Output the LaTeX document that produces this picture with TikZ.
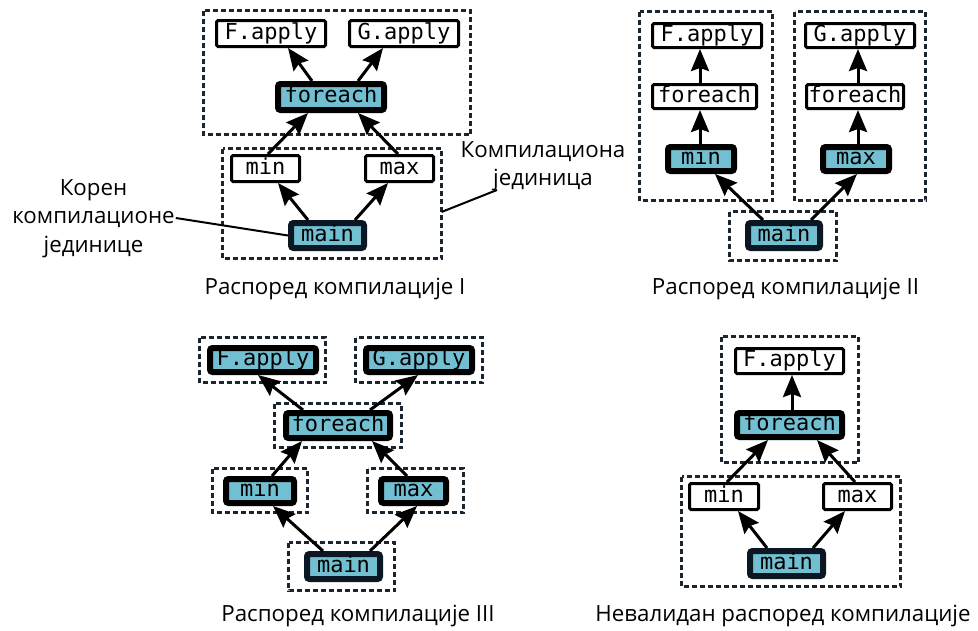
\documentclass[tikz,border=0pt]{standalone}
\usepackage{fontspec}
\setmainfont{Open Sans}
\newfontfamily\codefont{DejaVu Sans Mono}
\usetikzlibrary{arrows.meta}
\definecolor{hotfill}{HTML}{72BFD2}
\definecolor{rootline}{HTML}{0B1823}
\definecolor{grpline}{HTML}{1A2530}
\begin{document}
\begin{tikzpicture}[x=1pt,y=-1pt,
  fn/.style={font=\codefont\fontsize{22}{24}\selectfont, inner sep=0pt,
             text height=15.5pt, text depth=4.5pt, anchor=center},
  plain/.style={fn, draw=black, line width=3pt, fill=white, rounded corners=1.5pt},
  hot/.style={fn, draw=black, line width=6pt, fill=hotfill, rounded corners=2.5pt},
  root/.style={hot, draw=rootline},
  sz/.style 2 args={minimum width=#1pt, minimum height=#2pt},
  grp/.style={draw=grpline, line width=2.5pt, dash pattern=on 5pt off 3pt},
  arr/.style={line width=3pt, -{Stealth[length=22pt,width=18pt,inset=3pt]}},
  lead/.style={line width=2pt},
  lbl/.style={font=\fontsize{22.3}{26}\selectfont, inner sep=1pt, anchor=base},
]
\useasboundingbox (0,0) rectangle (978,630);

% ---------- schedule I ----------
\draw[grp] (203.5,10.5) rectangle (470.5,134.5);
\draw[grp] (222.5,148.5) rectangle (441.5,258.5);
\node[plain, sz={109}{26}] (fa1) at (271,33.5) {F.apply};
\node[plain, sz={109}{26}] (ga1) at (404,33.5) {G.apply};
\node[hot,   sz={106}{26}] (fe1) at (331,97) {foreach};
\node[plain, sz={68}{26}]  (mi1) at (265.5,168.5) {min};
\node[plain, sz={68}{26}]  (ma1) at (399.5,168.5) {max};
\node[root,  sz={73}{25}]  (mn1) at (327.5,235.5) {main};
\draw[arr] ([xshift=-19]fe1.north) -- ([xshift=17]fa1.south);
\draw[arr] ([xshift=27]fe1.north) -- ([xshift=-21]ga1.south);
\draw[arr] ([xshift=2.5]mi1.north) -- ([xshift=-23]fe1.south);
\draw[arr] ([xshift=-1.5]ma1.north) -- ([xshift=27]fe1.south);
\draw[arr] ([xshift=-19.5]mn1.north) -- ([xshift=12.5]mi1.south);
\draw[arr] ([xshift=27.5]mn1.north) -- ([xshift=-11.5]ma1.south);

\node[lbl] (rl1) at (93.5,195) {Корен};
\node[lbl] (rl2) at (93.5,223) {компилационе};
\node[lbl] (rl3) at (93.5,252) {јединице};
\draw[lead] ([yshift=5]rl2.base east) -- (mn1.west);

\node[lbl] (cu1) at (543,157) {Компилациона};
\node[lbl] (cu2) at (543,185) {јединица};
\coordinate (cuEdge) at (441.5,212);
\draw[lead] (cuEdge) -- ([xshift=5,yshift=-5]cu2.base west);

\node[lbl] (cap1) at (335,294) {Распоред компилације I};

% ---------- schedule II ----------
\draw[grp] (639.5,11.5) rectangle (772.5,200.5);
\draw[grp] (794.5,11.5) rectangle (925.5,200.5);
\draw[grp] (729.5,211.5) rectangle (836.5,260.5);
\node[plain, sz={109}{24}] (fa2)  at (707,35.5) {F.apply};
\node[plain, sz={104}{24}] (fe2)  at (704.5,96.5) {foreach};
\node[hot,   sz={66}{24}]  (mi2)  at (701,159) {min};
\node[plain, sz={109}{24}] (ga2)  at (860,35.5) {G.apply};
\node[plain, sz={97}{24}]  (fe2b) at (855,96.5) {foreach};
\node[hot,   sz={66}{24}]  (ma2)  at (856,159) {max};
\node[root,  sz={72}{25}]  (mn2)  at (784,235.5) {main};
\draw[arr] ([xshift=-4.5]fe2.north) -- ([xshift=-7]fa2.south);
\draw[arr] ([xshift=-1]mi2.north) -- ([xshift=-4.5]fe2.south);
\draw[arr] ([xshift=3]fe2b.north) -- ([xshift=-2]ga2.south);
\draw[arr] ([xshift=2]ma2.north) -- ([xshift=3]fe2b.south);
\draw[arr] ([xshift=-21]mn2.north) -- ([xshift=14]mi2.south);
\draw[arr] ([xshift=27]mn2.north) -- ([xshift=1]ma2.south);

\node[lbl] (cap2) at (785.5,294) {Распоред компилације II};

% ---------- schedule III ----------
\draw[grp] (199.5,337.5) rectangle (325.5,382.5);
\draw[grp] (355.5,337.5) rectangle (482.5,382.5);
\draw[grp] (274.5,403.5) rectangle (401.5,447.5);
\draw[grp] (212.5,468.5) rectangle (307.5,512.5);
\draw[grp] (367.5,468.5) rectangle (463.5,512.5);
\draw[grp] (288.5,542.5) rectangle (394.5,590.5);
\node[hot,  sz={106}{24}] (fa3) at (263,360) {F.apply};
\node[hot,  sz={106}{24}] (ga3) at (419,360) {G.apply};
\node[hot,  sz={104}{25}] (fe3) at (338,425.5) {foreach};
\node[hot,  sz={68}{24}]  (mi3) at (260,491) {min};
\node[hot,  sz={65}{24}]  (ma3) at (413.5,491) {max};
\node[root, sz={73}{25}]  (mn3) at (343.5,566.5) {main};
\draw[arr] ([xshift=-35]fe3.north) -- ([xshift=-5]fa3.south);
\draw[arr] ([xshift=32]fe3.north) -- ([xshift=-1]ga3.south);
\draw[arr] ([xshift=12]mi3.north) -- ([xshift=-36]fe3.south);
\draw[arr] ([xshift=-6.5]ma3.north) -- ([xshift=34]fe3.south);
\draw[arr] ([xshift=-20.5]mn3.north) -- ([xshift=13]mi3.south);
\draw[arr] ([xshift=26.5]mn3.north) -- ([xshift=3.5]ma3.south);

\node[lbl] (cap3) at (358,621) {Распоред компилације III};

% ---------- invalid schedule ----------
\draw[grp] (721.5,336.5) rectangle (858.5,462.5);
\draw[grp] (681.5,476.5) rectangle (900.5,586.5);
\node[plain, sz={108}{25}] (fa4) at (789.5,361) {F.apply};
\node[hot,   sz={105}{24}] (fe4) at (789.5,425) {foreach};
\node[plain, sz={69}{26}]  (mi4) at (724,496.5) {min};
\node[plain, sz={68}{26}]  (ma4) at (857.5,496.5) {max};
\node[root,  sz={73}{25}]  (mn4) at (786.5,563.5) {main};
\draw[arr] ([xshift=2.5]fe4.north) -- ([xshift=2.5]fa4.south);
\draw[arr] ([xshift=3]mi4.north) -- ([xshift=-21.5]fe4.south);
\draw[arr] ([xshift=-2.5]ma4.north) -- ([xshift=27.5]fe4.south);
\draw[arr] ([xshift=-19.5]mn4.north) -- ([xshift=14]mi4.south);
\draw[arr] ([xshift=26.5]mn4.north) -- ([xshift=-12.5]ma4.south);

\node[lbl] (cap4) at (783,621) {Невалидан распоред компилације};
\end{tikzpicture}
\end{document}
